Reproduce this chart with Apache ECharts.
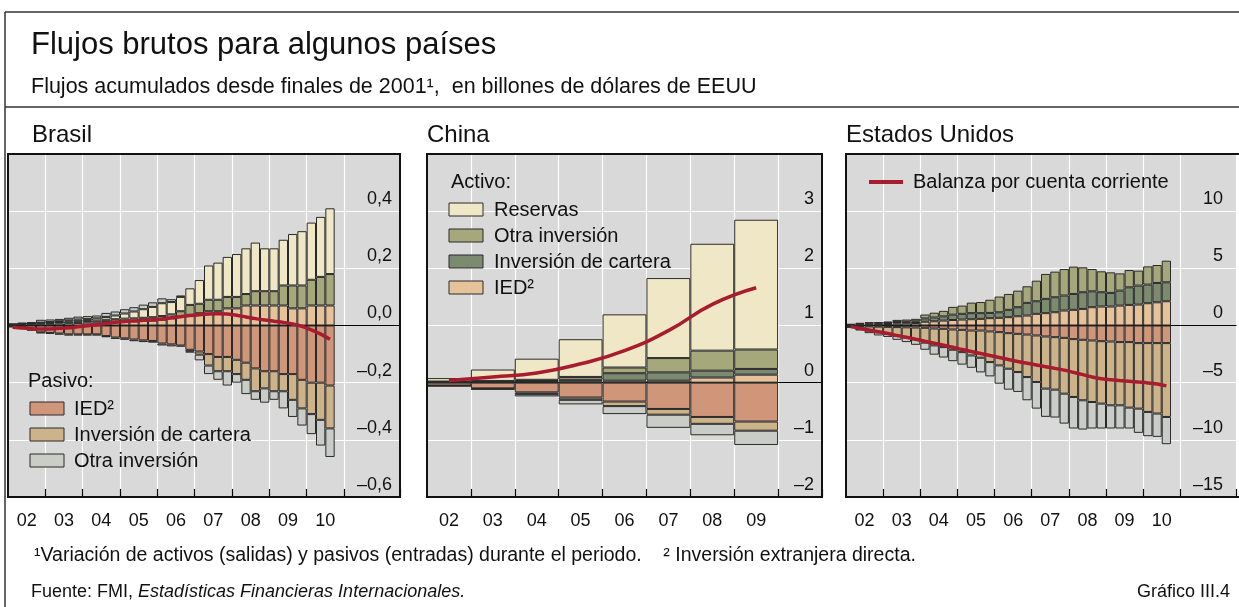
<!DOCTYPE html>
<html>
<head>
<meta charset="utf-8">
<title>Flujos brutos para algunos países</title>
<script src="https://cdn.jsdelivr.net/npm/echarts@6/dist/echarts.min.js"></script>
<style>
  html, body { margin: 0; padding: 0; background: #fff; }
  #chart { width: 1239px; height: 607px; }
</style>
</head>
<body>
<div id="chart"></div>
<script>
// ---- categorías y etiquetas ----
const QUARTER_YEARS = ["2002", "2003", "2004", "2005", "2006", "2007", "2008", "2009", "2010", "2011", "2012"];
const QUARTERS = ["T1", "T2", "T3", "T4"];
const YEAR_LABELS = ["02", "03", "04", "05", "06", "07", "08", "09", "10"];
const CN_YEARS = ["2002", "2003", "2004", "2005", "2006", "2007", "2008", "2009", "2010"];
const CN_LABELS = ["02", "03", "04", "05", "06", "07", "08", "09", ""];

// escalas del eje vertical: [min, max, intervalo]
const BR_Y = [-0.6, 0.6, 0.2];
const CN_Y = [-2, 4, 1];
const US_Y = [-15, 15, 5];

// ---- Brasil (trimestral, 2002T1–2010T3) ----
const brIedAct = [0.002, 0.003, 0.004, 0.006, 0.006, 0.007, 0.008, 0.009, 0.010, 0.010, 0.012, 0.013, 0.014, 0.015, 0.016, 0.017, 0.020, 0.025, 0.030, 0.037, 0.043, 0.05, 0.05, 0.06, 0.06, 0.07, 0.07, 0.07, 0.07, 0.07, 0.06, 0.06, 0.07, 0.07, 0.07];
const brOtraAct = [0.002, 0.003, 0.003, 0.004, 0.004, 0.005, 0.006, 0.006, 0.006, 0.007, 0.008, 0.009, 0.010, 0.010, 0.011, 0.012, 0.013, 0.014, 0.020, 0.035, 0.033, 0.04, 0.04, 0.04, 0.04, 0.04, 0.05, 0.05, 0.05, 0.07, 0.08, 0.08, 0.09, 0.10, 0.11];
const brReservas = [0, 0, 0, 0, 0.002, 0.003, 0.004, 0.006, 0.007, 0.008, 0.010, 0.013, 0.018, 0.024, 0.030, 0.036, 0.045, 0.043, 0.050, 0.058, 0.083, 0.12, 0.13, 0.14, 0.15, 0.16, 0.17, 0.15, 0.15, 0.16, 0.18, 0.19, 0.20, 0.21, 0.23];
const brIedPas = [-0.004, -0.006, -0.015, -0.024, -0.026, -0.028, -0.031, -0.031, -0.031, -0.031, -0.037, -0.042, -0.045, -0.049, -0.052, -0.054, -0.063, -0.066, -0.070, -0.085, -0.091, -0.10, -0.11, -0.11, -0.12, -0.13, -0.15, -0.16, -0.16, -0.17, -0.17, -0.19, -0.20, -0.20, -0.21];
const brCarteraPas = [-0.001, -0.001, -0.002, -0.003, -0.003, -0.004, -0.004, -0.004, -0.004, -0.004, -0.004, -0.005, -0.005, -0.006, -0.006, -0.006, -0.007, -0.007, -0.004, -0.006, -0.011, -0.04, -0.05, -0.05, -0.05, -0.06, -0.08, -0.06, -0.07, -0.06, -0.09, -0.10, -0.11, -0.13, -0.15];
const brOtraPas = [0.002, 0.004, 0.005, 0.010, 0.009, 0.008, 0.009, 0.010, 0.010, 0.010, 0.014, 0.014, 0.015, 0.015, 0.016, 0.016, 0.017, 0.010, 0.005, -0.003, -0.020, -0.03, -0.03, -0.05, -0.03, -0.05, -0.03, -0.05, -0.03, -0.06, -0.06, -0.06, -0.07, -0.09, -0.10];
const brCuenta = [-0.006, -0.009, -0.011, -0.012, -0.012, -0.010, -0.008, -0.004, -0.001, 0.003, 0.007, 0.011, 0.014, 0.016, 0.018, 0.020, 0.023, 0.027, 0.031, 0.035, 0.038, 0.040, 0.041, 0.040, 0.036, 0.030, 0.024, 0.019, 0.015, 0.011, 0.005, -0.003, -0.015, -0.030, -0.048];

// ---- China (anual, 2002–2009) ----
const cnIedAct = [0.005, 0.01, 0.015, 0.02, 0.035, 0.035, 0.09, 0.14];
const cnCarteraAct = [0.005, 0.01, 0.015, 0.03, 0.13, 0.145, 0.12, 0.10];
const cnOtraAct = [0.01, 0.01, 0.02, 0.05, 0.10, 0.25, 0.35, 0.34];
const cnReservas = [0.06, 0.20, 0.37, 0.66, 0.93, 1.40, 1.87, 2.27];
const cnIedPas = [-0.05, -0.10, -0.17, -0.26, -0.33, -0.46, -0.60, -0.68];
const cnCarteraPas = [-0.005, -0.01, -0.03, -0.04, -0.08, -0.10, -0.12, -0.16];
const cnOtraPas = [-0.005, -0.01, -0.04, -0.08, -0.14, -0.23, -0.20, -0.25];
const cnCuenta = [0.04, 0.10, 0.17, 0.33, 0.56, 0.91, 1.37, 1.66];

// ---- Estados Unidos (trimestral, 2002T1–2010T3) ----
const usIedAct = [0.05, 0.08, 0.10, 0.11, 0.13, 0.17, 0.19, 0.22, 0.33, 0.37, 0.43, 0.48, 0.52, 0.55, 0.58, 0.64, 0.67, 0.73, 0.81, 0.87, 1.02, 1.08, 1.16, 1.31, 1.37, 1.45, 1.60, 1.66, 1.66, 1.74, 1.80, 1.83, 1.95, 2.03, 2.12];
const usCarteraAct = [0.03, 0.06, 0.08, 0.08, 0.09, 0.13, 0.13, 0.15, 0.29, 0.33, 0.37, 0.47, 0.50, 0.53, 0.50, 0.46, 0.49, 0.64, 0.79, 1.11, 1.10, 1.25, 1.31, 1.31, 1.39, 1.46, 1.39, 1.25, 1.19, 1.31, 1.54, 1.66, 1.63, 1.69, 1.66];
const usOtraAct = [0.04, 0.09, 0.11, 0.11, 0.13, 0.19, 0.20, 0.21, 0.34, 0.42, 0.48, 0.68, 0.72, 0.92, 0.97, 1.15, 1.37, 1.39, 1.45, 1.45, 1.80, 2.18, 2.24, 2.32, 2.39, 2.18, 1.95, 1.83, 1.80, 1.51, 1.51, 1.31, 1.59, 1.57, 1.89];
const usIedPas = [-0.03, -0.05, -0.08, -0.10, -0.12, -0.14, -0.16, -0.18, -0.20, -0.26, -0.29, -0.35, -0.38, -0.44, -0.44, -0.52, -0.58, -0.67, -0.73, -0.79, -0.87, -0.96, -1.02, -1.08, -1.19, -1.25, -1.31, -1.37, -1.40, -1.45, -1.45, -1.54, -1.54, -1.54, -1.54];
const usCarteraPas = [-0.09, -0.25, -0.37, -0.50, -0.60, -0.76, -0.89, -1.04, -1.30, -1.48, -1.60, -1.77, -1.95, -2.18, -2.38, -2.68, -2.91, -3.11, -3.34, -3.72, -4.07, -4.56, -4.59, -4.88, -5.06, -5.29, -5.38, -5.46, -5.58, -5.53, -5.73, -5.73, -6.02, -6.16, -6.46];
const usOtraPas = [-0.06, -0.14, -0.22, -0.27, -0.28, -0.35, -0.40, -0.47, -0.62, -0.81, -0.91, -1.00, -1.09, -1.08, -1.28, -1.25, -1.60, -1.83, -1.74, -2.03, -2.33, -2.47, -2.44, -2.62, -2.76, -2.56, -2.32, -2.18, -2.03, -2.03, -1.83, -2.12, -2.12, -2.04, -2.38];
const usCuenta = [-0.10, -0.25, -0.40, -0.55, -0.70, -0.87, -1.03, -1.20, -1.38, -1.55, -1.72, -1.90, -2.10, -2.28, -2.45, -2.62, -2.80, -2.98, -3.15, -3.30, -3.45, -3.60, -3.75, -3.90, -4.10, -4.30, -4.50, -4.65, -4.75, -4.82, -4.88, -4.95, -5.02, -5.12, -5.28];

const FONT = "'Liberation Sans', Arial, sans-serif";
const COLORS = {
  reservas: "#EFE7C6",
  otraAct: "#A5A87A",
  carteraAct: "#7C8B70",
  iedAct: "#E6C29A",
  iedPas: "#D09679",
  carteraPas: "#CDB38A",
  otraPas: "#C9CCC7",
  cuenta: "#A81C2F",
  fondo: "#D9D9D9",
};

// 42 trimestres: 2002T1 .. 2012T2
function quarterCats(n) {
  const out = [];
  QUARTER_YEARS.forEach((y) => QUARTERS.forEach((q) => out.push(y + q)));
  return out.slice(0, n);
}
const BR_CATS = quarterCats(42);
const US_CATS = quarterCats(42);

const yearBoundary = (i) => i % 4 === 0 && i > 0 && i <= 36;
const fmtDec = (v) => (Math.abs(v) < 1e-9 ? "0,0" : v.toFixed(1).replace(".", ",").replace("-", "–"));
const fmtInt = (v) => String(Math.round(v)).replace("-", "–");
const fmtYear = (v) => {
  const y = Math.floor(v + 1e-9);
  return Math.abs(v - y - 0.5) < 1e-6 ? YEAR_LABELS[y - 2002] || "" : "";
};

function grid(left, width) {
  return { left: left, top: 154, width: width, height: 343, show: true, backgroundColor: COLORS.fondo, borderWidth: 0 };
}
function yAxis(gi, scale, fmt, margin) {
  return {
    type: "value", gridIndex: gi, min: scale[0], max: scale[1], interval: scale[2], position: "right",
    axisLine: { show: false }, axisTick: { show: false },
    splitLine: { lineStyle: { color: "#fff", width: 1.2 } },
    axisLabel: {
      inside: true, showMaxLabel: false, showMinLabel: true, margin: margin, color: "#111",
      fontSize: 18, fontFamily: FONT, verticalAlign: "bottom", lineHeight: 18, padding: [0, 0, 3, 0], formatter: fmt,
    },
  };
}
function mainX(gi, cats, splitFn) {
  return {
    type: "category", gridIndex: gi, data: cats, position: "bottom", boundaryGap: true,
    axisLine: { onZero: true, lineStyle: { color: "#000", width: 1.2 } },
    axisTick: { show: false }, axisLabel: { show: false },
    splitLine: { show: true, interval: splitFn, lineStyle: { color: "#fff", width: 1.2 } },
  };
}
function tickX(gi, cats, tickFn, showLabels) {
  return {
    type: "category", gridIndex: gi, data: cats, position: "bottom", boundaryGap: true,
    axisLine: { show: false, onZero: false },
    axisTick: { show: true, inside: true, length: 8, interval: tickFn, lineStyle: { color: "#000", width: 1.2 } },
    axisLabel: { show: showLabels, interval: 0, margin: 15, color: "#111", fontSize: 18, fontFamily: FONT },
    splitLine: { show: false },
  };
}
function labelX(gi) {
  return {
    type: "value", gridIndex: gi, min: 2002, max: 2012.5, interval: 0.25, position: "bottom",
    axisLine: { show: false, onZero: false }, axisTick: { show: false }, splitLine: { show: false },
    axisLabel: { margin: 15, color: "#111", fontSize: 18, fontFamily: FONT, formatter: fmtYear },
  };
}
function bar(name, data, color, xi, yi, stack) {
  return {
    name: name, type: "bar", data: data, stack: stack, xAxisIndex: xi, yAxisIndex: yi,
    barCategoryGap: "0%", silent: true, z: 2,
    itemStyle: { color: color, borderColor: "#2a2a2a", borderWidth: 1 },
  };
}
function line(name, data, xi, yi, smooth) {
  return {
    name: name, type: "line", data: data, xAxisIndex: xi, yAxisIndex: yi, symbol: "none",
    smooth: smooth, silent: true, z: 5, lineStyle: { color: COLORS.cuenta, width: 3.5 },
  };
}

function txt(x, y, text, size, extra) {
  return {
    type: "text", x: x, y: y, z: 100, silent: true,
    style: Object.assign({ text: text, fill: "#111", fontSize: size, fontFamily: FONT, align: "left", verticalAlign: "middle" }, extra || {}),
  };
}
function hline(x1, y1, x2, y2, w) {
  return { type: "line", z: 100, silent: true, shape: { x1: x1, y1: y1, x2: x2, y2: y2 }, style: { stroke: "#333", lineWidth: w } };
}
function frame(x, w) {
  return { type: "rect", z: 100, silent: true, shape: { x: x, y: 154, width: w, height: 343 }, style: { fill: null, stroke: "#111", lineWidth: 2 } };
}
function swatch(x, y, color) {
  return { type: "rect", z: 100, silent: true, shape: { x: x, y: y, width: 34, height: 13 }, style: { fill: color, stroke: "#2a2a2a", lineWidth: 1 } };
}

const chart = echarts.init(document.getElementById("chart"), null, { renderer: "canvas" });

const option = {
  animation: false,
  backgroundColor: "#fff",
  grid: [grid(8, 392), grid(427, 395), grid(846, 402)],
  xAxis: [
    mainX(0, BR_CATS, yearBoundary), tickX(0, BR_CATS, yearBoundary, false), labelX(0),
    mainX(1, CN_YEARS, (i) => i > 0), tickX(1, CN_LABELS, (i) => i > 0, true),
    mainX(2, US_CATS, yearBoundary), tickX(2, US_CATS, yearBoundary, false), labelX(2),
  ],
  yAxis: [yAxis(0, BR_Y, fmtDec, 8), yAxis(1, CN_Y, fmtInt, 8), yAxis(2, US_Y, fmtInt, 13)],
  series: [
    // Brasil
    bar("IED activo", brIedAct, COLORS.iedAct, 0, 0, "br"),
    bar("Otra inversión activo", brOtraAct, COLORS.otraAct, 0, 0, "br"),
    bar("Reservas", brReservas, COLORS.reservas, 0, 0, "br"),
    bar("IED pasivo", brIedPas, COLORS.iedPas, 0, 0, "br"),
    bar("Inversión de cartera pasivo", brCarteraPas, COLORS.carteraPas, 0, 0, "br"),
    bar("Otra inversión pasivo", brOtraPas, COLORS.otraPas, 0, 0, "br"),
    line("Balanza por cuenta corriente", brCuenta, 0, 0, 0.3),
    // China
    bar("IED activo", cnIedAct, COLORS.iedAct, 3, 1, "cn"),
    bar("Inversión de cartera activo", cnCarteraAct, COLORS.carteraAct, 3, 1, "cn"),
    bar("Otra inversión activo", cnOtraAct, COLORS.otraAct, 3, 1, "cn"),
    bar("Reservas", cnReservas, COLORS.reservas, 3, 1, "cn"),
    bar("IED pasivo", cnIedPas, COLORS.iedPas, 3, 1, "cn"),
    bar("Inversión de cartera pasivo", cnCarteraPas, COLORS.carteraPas, 3, 1, "cn"),
    bar("Otra inversión pasivo", cnOtraPas, COLORS.otraPas, 3, 1, "cn"),
    line("Balanza por cuenta corriente", cnCuenta, 3, 1, true),
    // Estados Unidos
    bar("IED activo", usIedAct, COLORS.iedAct, 5, 2, "us"),
    bar("Inversión de cartera activo", usCarteraAct, COLORS.carteraAct, 5, 2, "us"),
    bar("Otra inversión activo", usOtraAct, COLORS.otraAct, 5, 2, "us"),
    bar("IED pasivo", usIedPas, COLORS.iedPas, 5, 2, "us"),
    bar("Inversión de cartera pasivo", usCarteraPas, COLORS.carteraPas, 5, 2, "us"),
    bar("Otra inversión pasivo", usOtraPas, COLORS.otraPas, 5, 2, "us"),
    line("Balanza por cuenta corriente", usCuenta, 5, 2, 0.3),
  ],
  graphic: [
    // marco general
    hline(5, 12, 1239, 12, 1.5),
    hline(5, 107, 1239, 107, 1.5),
    hline(5, 12, 5, 607, 1.5),
    frame(8, 392), frame(427, 395), frame(846, 402),
    // títulos
    txt(31, 45, "Flujos brutos para algunos países", 31),
    txt(31, 87, "Flujos acumulados desde finales de 2001¹,  en billones de dólares de EEUU", 21.5),
    txt(32, 135, "Brasil", 24),
    txt(427, 135, "China", 24),
    txt(846, 135, "Estados Unidos", 24),
    // leyenda Brasil
    txt(28, 381, "Pasivo:", 20),
    swatch(30, 402, COLORS.iedPas), txt(74, 409, "IED²", 20),
    swatch(30, 428, COLORS.carteraPas), txt(74, 435, "Inversión de cartera", 20),
    swatch(30, 454, COLORS.otraPas), txt(74, 461, "Otra inversión", 20),
    // leyenda China
    txt(451, 182, "Activo:", 20),
    swatch(449, 203, COLORS.reservas), txt(494, 210, "Reservas", 20),
    swatch(449, 229, COLORS.otraAct), txt(494, 236, "Otra inversión", 20),
    swatch(449, 255, COLORS.carteraAct), txt(494, 262, "Inversión de cartera", 20),
    swatch(449, 281, COLORS.iedAct), txt(494, 288, "IED²", 20),
    // leyenda Estados Unidos
    { type: "line", z: 100, silent: true, shape: { x1: 869, y1: 182, x2: 903, y2: 182 }, style: { stroke: COLORS.cuenta, lineWidth: 4 } },
    txt(913, 182, "Balanza por cuenta corriente", 20),
    // notas
    txt(34, 556, "¹Variación de activos (salidas) y pasivos (entradas) durante el periodo.    ² Inversión extranjera directa.", 19.5),
    {
      type: "text", x: 31, y: 592, z: 100, silent: true,
      style: {
        text: "{n|Fuente: FMI, }{i|Estadísticas Financieras Internacionales.}",
        verticalAlign: "middle", align: "left",
        rich: {
          n: { fontSize: 18, fontFamily: FONT, fill: "#111" },
          i: { fontSize: 18, fontFamily: FONT, fill: "#111", fontStyle: "italic" },
        },
      },
    },
    txt(1230, 592, "Gráfico III.4", 18, { align: "right" }),
  ],
};

chart.setOption(option);
</script>
</body>
</html>
